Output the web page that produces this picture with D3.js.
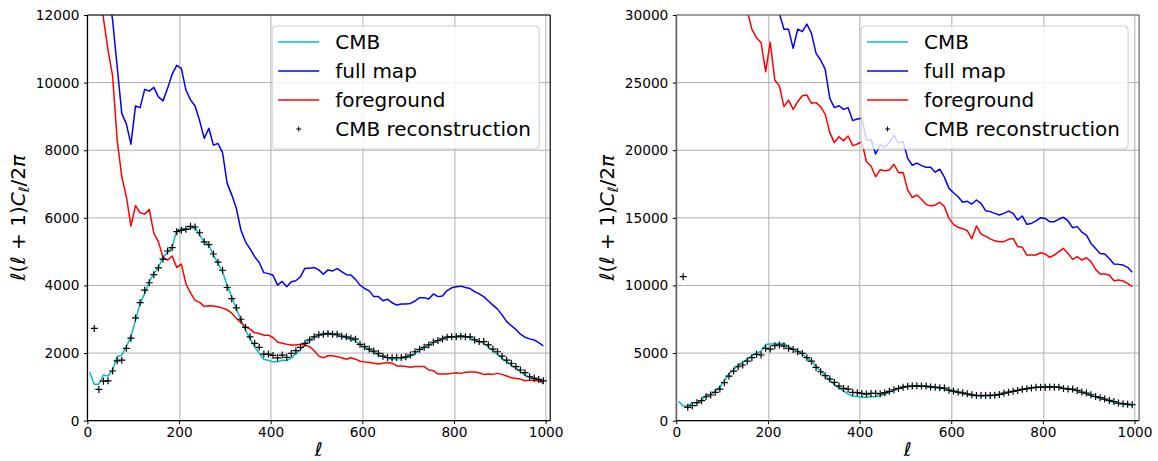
<!DOCTYPE html>
<html>
<head>
<meta charset="utf-8">
<script src="https://cdn.jsdelivr.net/npm/d3@7"></script>
<style>
  html, body { margin: 0; padding: 0; background: #fff; }
  svg { display: block; font-family: 'DejaVu Sans', sans-serif; }
</style>
</head>
<body>
<div id="chart"></div>
<script>
// multipole bins
const ell = d3.range(5, 1000, 10);

const cmb = [
  1430, 1080, 1080, 1350, 1320, 1500, 1900, 1940, 2190, 2480,
  2975, 3470, 3760, 4110, 4350, 4530, 4830, 4990, 5140, 5630,
  5680, 5680, 5700, 5710, 5490, 5290, 5190, 4900, 4650, 4400,
  4010, 3660, 3320, 2975, 2680, 2430, 2190, 1990, 1810, 1790,
  1740, 1740, 1790, 1780, 1850, 1980, 2100, 2270, 2390, 2480,
  2530, 2550, 2565, 2550, 2520, 2480, 2450, 2390, 2370, 2240,
  2170, 2090, 2010, 1950, 1890, 1850, 1820, 1830, 1840, 1860,
  1910, 2010, 2090, 2170, 2240, 2310, 2360, 2430, 2470, 2480,
  2500, 2510, 2500, 2470, 2390, 2340, 2290, 2190, 2070, 1970,
  1840, 1745, 1650, 1550, 1450, 1350, 1290, 1220, 1180, 1100
];

// left panel
const fullMapA = [
  20000, 17500, 15500, 14000, 12800, 11850, 10470, 9090, 8780, 8180,
  9310, 9260, 9800, 9750, 9860, 9580, 9460, 9830, 10250, 10510,
  10420, 9780, 9490, 9310, 8870, 8350, 8650, 8150, 8200, 7930,
  7020, 6680, 6280, 5640, 5290, 5080, 4850, 4680, 4380, 4350,
  4300, 4010, 4120, 3960, 4110, 4140, 4260, 4510, 4510, 4530,
  4460, 4330, 4460, 4430, 4500, 4410, 4320, 4310, 4180, 4010,
  3910, 3840, 3670, 3670, 3550, 3590, 3490, 3420, 3450, 3450,
  3470, 3540, 3640, 3640, 3600, 3750, 3670, 3690, 3850, 3930,
  3960, 3980, 3940, 3910, 3820, 3750, 3670, 3540, 3420, 3300,
  3130, 2930, 2810, 2700, 2560, 2470, 2420, 2390, 2310, 2210
];
const foregroundA = [
  22000, 17000, 13500, 11900, 10960, 10200, 8300, 7220, 6630, 5760,
  6360, 6150, 6110, 6250, 5540, 5290, 4830, 4750, 4870, 4530,
  4630, 4050, 3780, 3560, 3500, 3380, 3400, 3390, 3370, 3330,
  3280, 3180, 3030, 2900, 2780, 2710, 2600, 2580, 2530, 2530,
  2460, 2330, 2290, 2260, 2240, 2240, 2260, 2240, 2190, 2070,
  1910, 1860, 1920, 1920, 1890, 1860, 1820, 1860, 1820, 1760,
  1740, 1720, 1700, 1680, 1700, 1720, 1700, 1620, 1620, 1600,
  1580, 1600, 1600, 1600, 1500, 1480, 1380, 1380, 1380, 1400,
  1420, 1400, 1430, 1440, 1440, 1420, 1370, 1380, 1370, 1400,
  1370, 1320, 1270, 1250, 1230, 1180, 1200, 1180, 1180, 1150
];
const reconA = [
  null, 2730, 925, 1170, 1180, 1470, 1770, 1790, 2140, 2440,
  3040, 3490, 3860, 4080, 4320, 4520, 4780, 5020, 5120, 5590,
  5630, 5660, 5750, 5730, 5560, 5290, 5210, 4930, 4690, 4450,
  3940, 3610, 3340, 3000, 2760, 2480, 2290, 2170, 1970, 1970,
  1930, 1860, 1940, 1875, 1990, 2070, 2170, 2290, 2390, 2480,
  2540, 2560, 2580, 2560, 2560, 2500, 2480, 2440, 2410, 2260,
  2190, 2120, 2060, 1990, 1910, 1870, 1860, 1870, 1870, 1890,
  1940, 2040, 2110, 2170, 2240, 2320, 2370, 2420, 2470, 2480,
  2480, 2500, 2480, 2480, 2390, 2340, 2340, 2240, 2120, 2040,
  1910, 1790, 1700, 1600, 1500, 1420, 1300, 1260, 1220, 1180
];

// right panel
const fullMapB = [
  80000, 70000, 62000, 56000, 52000, 49000, 46000, 44000, 42000, 40500,
  39000, 38000, 37000, 36000, 35000, 34000, 33000, 32500, 32000, 31500,
  31000, 30500, 30100, 28940, 28940, 27530, 28960, 28770, 29330, 28640,
  27160, 26670, 25980, 23840, 23150, 23290, 23020, 23150, 22190, 22310,
  22360, 20750, 20800, 19720, 20390, 20260, 20560, 21100, 20560, 20630,
  19400, 18890, 19050, 18860, 18740, 18740, 18380, 18600, 18010, 17180,
  16860, 16560, 16150, 16220, 16020, 16320, 16070, 15530, 15460, 15330,
  15210, 15330, 15500, 15330, 14840, 15140, 14520, 14590, 14770, 15010,
  14960, 14720, 14720, 14910, 15040, 14770, 14270, 14350, 13950, 13730,
  13110, 12740, 12370, 12330, 12000, 11590, 11560, 11510, 11340, 10970
];
const foregroundB = [
  70000, 60000, 53000, 48000, 45000, 42500, 40500, 39000, 37500, 36000,
  35000, 34000, 33000, 32000, 31200, 30300, 28940, 28320, 27950, 25810,
  27980, 25190, 24750, 23220, 23710, 23020, 23590, 24030, 24080, 23470,
  23520, 23220, 22650, 21300, 20560, 21000, 20710, 21050, 20340, 20460,
  20630, 19150, 18830, 18040, 18560, 18490, 18540, 18960, 18340, 18360,
  17060, 16500, 16690, 16370, 16000, 15870, 15950, 16150, 15830, 14960,
  14520, 14300, 14200, 14050, 13450, 14400, 13800, 13650, 13450, 13300,
  13240, 13240, 13410, 13480, 12880, 12820, 12250, 12250, 12250, 12420,
  12330, 12080, 12250, 12500, 12740, 12370, 11930, 12130, 11880, 12050,
  11760, 11190, 10850, 10850, 10770, 10350, 10400, 10330, 10160, 9910
];
const reconB = [
  null, 10650, 990, 1110, 1330, 1480, 1770, 1900, 2100, 2340,
  2810, 3300, 3670, 3990, 4120, 4410, 4660, 4910, 4860, 5350,
  5300, 5550, 5600, 5520, 5350, 5270, 5100, 4980, 4660, 4410,
  3940, 3620, 3330, 3080, 2830, 2560, 2390, 2340, 2100, 2070,
  2020, 1970, 2020, 2020, 1990, 2070, 2170, 2290, 2390, 2480,
  2540, 2560, 2580, 2560, 2560, 2500, 2480, 2440, 2410, 2260,
  2190, 2120, 2060, 1990, 1910, 1870, 1860, 1870, 1870, 1890,
  1940, 2040, 2110, 2170, 2240, 2320, 2370, 2420, 2470, 2480,
  2480, 2500, 2480, 2480, 2390, 2340, 2340, 2240, 2120, 2040,
  1910, 1790, 1700, 1600, 1500, 1420, 1300, 1260, 1220, 1180
];

const xTicks = [0, 200, 400, 600, 800, 1000];
const yTicksA = [0, 2000, 4000, 6000, 8000, 10000, 12000];
const yTicksB = [0, 5000, 10000, 15000, 20000, 25000, 30000];
const legendLabels = ['CMB', 'full map', 'foreground', 'CMB reconstruction'];

const draw = () => {
  const dimensions = {
    width: 1158,
    height: 461,
    top: 15,
    bottom: 420.7,
    plotWidth: 462.8
  };

  const colors = { cmb: '#00bfbf', full: '#0000ff', fg: '#ff0000', recon: '#000000' };

  const svg = d3.select('#chart')
    .append('svg')
    .attr('width', dimensions.width)
    .attr('height', dimensions.height);

  const panels = [
    { left: 87.4, yMax: 12000, yTicks: yTicksA, full: fullMapA, fg: foregroundA, recon: reconA, spine: '#000', labelX: 25 },
    { left: 676.3, yMax: 30000, yTicks: yTicksB, full: fullMapB, fg: foregroundB, recon: reconB, spine: '#666', labelX: 614 }
  ];

  panels.forEach((p, idx) => {
    const w = dimensions.plotWidth;
    const h = dimensions.bottom - dimensions.top;

    const g = svg.append('g')
      .attr('transform', `translate(${p.left}, ${dimensions.top})`);

    const xScale = d3.scaleLinear().domain([0, 1010]).range([0, w]);
    const yScale = d3.scaleLinear().domain([0, p.yMax]).range([h, 0]);

    g.append('clipPath')
      .attr('id', `clip${idx}`)
      .append('rect')
      .attr('width', w)
      .attr('height', h);

    // grid
    const grid = g.append('g').attr('stroke', '#b0b0b0').attr('stroke-width', 1);
    grid.selectAll('.gx')
      .data(xTicks)
      .join('line')
      .attr('x1', (d) => Math.round(xScale(d)) + 0.5)
      .attr('x2', (d) => Math.round(xScale(d)) + 0.5)
      .attr('y1', 0)
      .attr('y2', h);
    grid.selectAll('.gy')
      .data(p.yTicks)
      .join('line')
      .attr('class', 'gy')
      .attr('x1', 0)
      .attr('x2', w)
      .attr('y1', (d) => yScale(d))
      .attr('y2', (d) => yScale(d));

    const plot = g.append('g').attr('clip-path', `url(#clip${idx})`);

    const line = (values) => d3.line()
      .defined((d, i) => values[i] != null)
      .x((d, i) => xScale(ell[i]))
      .y((d, i) => yScale(values[i]))(values);

    [[cmb, colors.cmb], [p.full, colors.full], [p.fg, colors.fg]].forEach(([values, color]) => {
      plot.append('path')
        .attr('d', line(values))
        .attr('fill', 'none')
        .attr('stroke', color)
        .attr('stroke-width', 1.5)
        .attr('stroke-linejoin', 'round');
    });

    plot.append('g')
      .selectAll('path')
      .data(ell.map((l, i) => [l, p.recon[i]]).filter((d) => d[1] != null))
      .join('path')
      .attr('transform', (d) => `translate(${xScale(d[0])}, ${yScale(d[1])})`)
      .attr('d', 'M-3.5,0H3.5M0,-3.5V3.5')
      .attr('stroke', colors.recon)
      .attr('stroke-width', 1.2)
      .attr('fill', 'none');

    // spines
    g.append('line').attr('x1', 0).attr('x2', w).attr('y1', h).attr('y2', h)
      .attr('stroke', '#000').attr('stroke-width', 1.2);
    g.append('line').attr('x1', 0).attr('x2', w).attr('y1', 0).attr('y2', 0)
      .attr('stroke', p.spine).attr('stroke-width', 1.2);
    g.append('line').attr('x1', 0).attr('x2', 0).attr('y1', 0).attr('y2', h)
      .attr('stroke', p.spine).attr('stroke-width', idx ? 1.6 : 1.2);
    g.append('line').attr('x1', w).attr('x2', w).attr('y1', 0).attr('y2', h)
      .attr('stroke', p.spine).attr('stroke-width', 1.2);

    // axes
    const xAxis = d3.axisBottom(xScale)
      .tickValues(xTicks)
      .tickSize(3.5)
      .tickPadding(3)
      .tickFormat(d3.format('d'));

    const xAxisGroup = g.append('g')
      .attr('transform', `translate(0, ${h})`)
      .call(xAxis);

    const yAxis = d3.axisLeft(yScale)
      .tickValues(p.yTicks)
      .tickSize(3.5)
      .tickPadding(4.5)
      .tickFormat(d3.format('d'));

    const yAxisGroup = g.append('g').call(yAxis);

    [xAxisGroup, yAxisGroup].forEach((a) => {
      a.select('.domain').remove();
      a.selectAll('.tick line').attr('stroke', '#000').attr('stroke-width', 1);
      a.selectAll('.tick text')
        .attr('fill', '#000')
        .style('font-family', 'DejaVu Sans')
        .style('font-size', '13.7px');
    });

    // axis labels
    svg.append('text')
      .attr('x', p.left + w / 2)
      .attr('y', 456)
      .attr('text-anchor', 'middle')
      .style('font-size', '19px')
      .style('font-style', 'italic')
      .text('ℓ');

    const yLabel = svg.append('text')
      .attr('transform', `translate(${p.labelX}, ${dimensions.top + h / 2}) rotate(-90)`)
      .attr('text-anchor', 'middle')
      .style('font-size', '20px');
    yLabel.append('tspan').style('font-style', 'italic').text('ℓ');
    yLabel.append('tspan').text('(');
    yLabel.append('tspan').style('font-style', 'italic').text('ℓ');
    yLabel.append('tspan').text(' + 1)');
    yLabel.append('tspan').style('font-style', 'italic').text('C');
    yLabel.append('tspan').style('font-style', 'italic').style('font-size', '14px').attr('dy', 4).text('ℓ');
    yLabel.append('tspan').attr('dy', -4).text('/2');
    yLabel.append('tspan').style('font-style', 'italic').text('π');

    // legend
    const legend = g.append('g')
      .attr('transform', `translate(${w - 11 - 267}, 11)`);

    legend.append('rect')
      .attr('width', 267)
      .attr('height', 123)
      .attr('rx', 4)
      .attr('fill', '#fff')
      .attr('fill-opacity', 0.8)
      .attr('stroke', '#cccccc')
      .attr('stroke-width', 1);

    const entries = legend.selectAll('.entry')
      .data(legendLabels)
      .join('g')
      .attr('transform', (d, i) => `translate(0, ${16 + i * 29})`);

    entries.filter((d, i) => i < 3)
      .append('line')
      .attr('x1', 6)
      .attr('x2', 47)
      .attr('stroke', (d, i) => [colors.cmb, colors.full, colors.fg][i])
      .attr('stroke-width', 1.5);

    entries.filter((d, i) => i === 3)
      .append('path')
      .attr('transform', 'translate(26.5, 0)')
      .attr('d', 'M-2.5,0H2.5M0,-2.5V2.5')
      .attr('stroke', '#000')
      .attr('stroke-width', 1);

    entries.append('text')
      .attr('x', 63)
      .attr('dy', '0.35em')
      .style('font-size', '20px')
      .attr('fill', '#000')
      .text((d) => d);
  });
};

draw();
</script>
</body>
</html>
